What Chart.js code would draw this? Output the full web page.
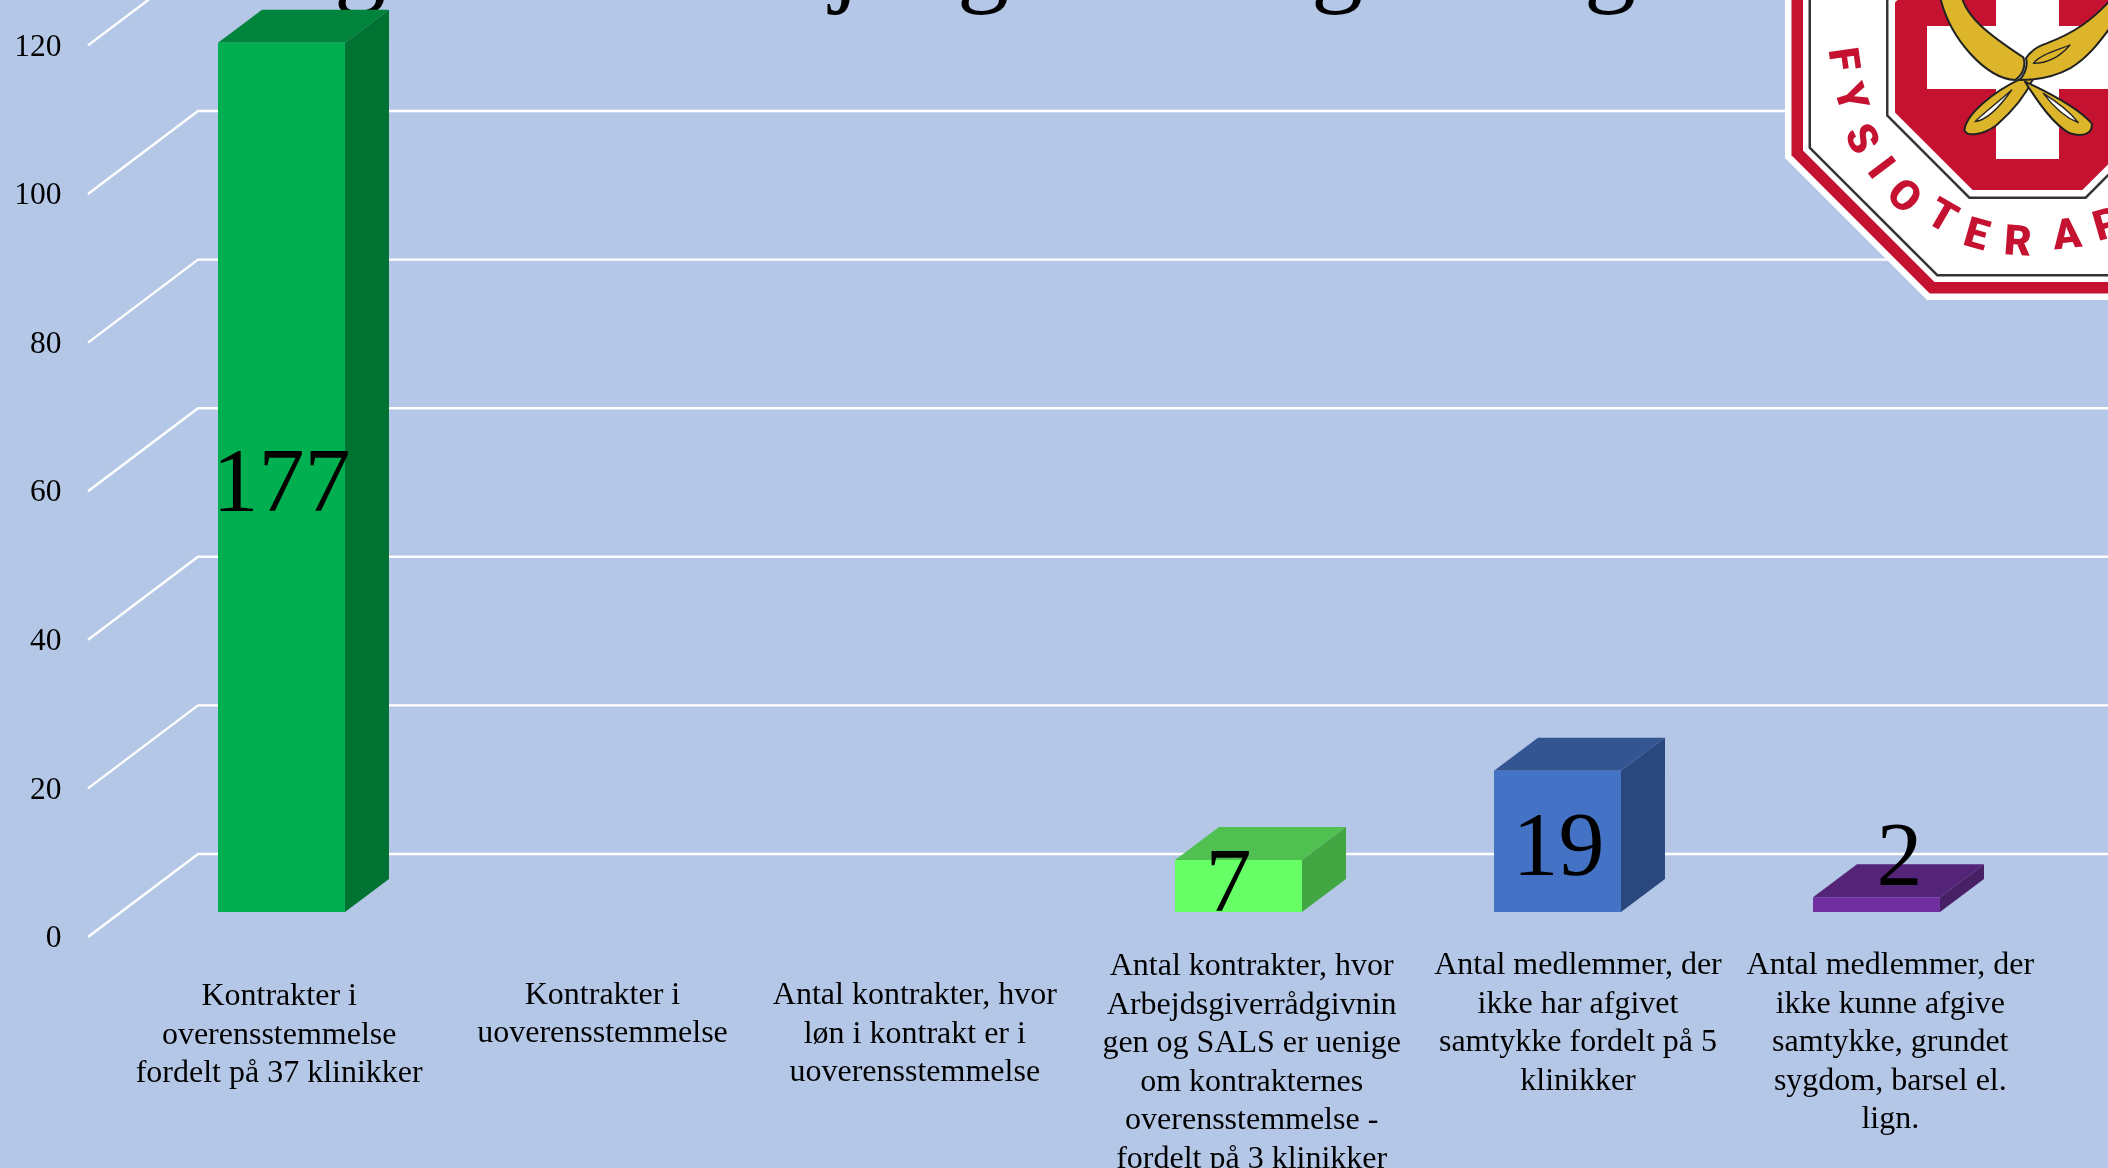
<!DOCTYPE html>
<html lang="da">
<head>
<meta charset="utf-8">
<style>
html,body{margin:0;padding:0;width:2108px;height:1168px;overflow:hidden;background:#B4C7E7}
#wrap{position:relative;width:2108px;height:1168px;overflow:hidden}
canvas{position:absolute;left:0;top:0}
svg{position:absolute;left:0;top:0}
</style>
<script src="https://cdn.jsdelivr.net/npm/chart.js@4/dist/chart.umd.min.js"></script>
</head>
<body>
<div id="wrap">
<canvas id="c" width="2108" height="1168"></canvas>
<svg id="logo" width="2108" height="1168" viewBox="0 0 2108 1168"></svg>
</div>
<script>
// ---- data ----
const categories = [
  ["Kontrakter i","overensstemmelse","fordelt på 37 klinikker"],
  ["Kontrakter i","uoverensstemmelse"],
  ["Antal kontrakter, hvor","løn i kontrakt er i","uoverensstemmelse"],
  ["Antal kontrakter, hvor","Arbejdsgiverrådgivnin","gen og SALS er uenige","om kontrakternes","overensstemmelse -","fordelt på 3 klinikker"],
  ["Antal medlemmer, der","ikke har afgivet","samtykke fordelt på 5","klinikker"],
  ["Antal medlemmer, der","ikke kunne afgive","samtykke, grundet","sygdom, barsel el.","lign."]
];
const barHeights = [117, 0, 0, 7, 19, 2];          // heights as drawn against the axis
const barLabels  = ["177", "", "", "7", "19", "2"]; // numbers as printed on the bars
const yTicks = [0, 20, 40, 60, 80, 100, 120];

// ---- styling ----
const faceColors = ["#00B050","#00B050","#00B050","#66FF66","#4472C4","#7030A0"];
const topColors  = ["#00843C","#00843C","#00843C","#50C050","#335693","#542478"];
const sideColors = ["#007232","#007232","#007232","#42A642","#2A487E","#472066"];
const SERIF = '"Liberation Serif"';
const wallDepth = {x:110, y:83};   // floor depth of the 3D box
const barInset  = {x:34,  y:25};   // where the bars stand in that depth
const barDepth  = {x:44,  y:33};
const catLabelDx = [-2.3, 2, -4.7, 13.2, 20.5, 13.8];
const catLabelBase = [1005, 1003.5, 1004, 975, 974, 974];
const catLineHeight = 38.5;
const valueDx = [0, 0, 0, -10, 1, 23];
const valueBase = [511, 0, 0, 911, 875, 885];
const titleGlyphs = [["g",360],["j",845],["g",983],["g",1337],["g",1610]];

const box3d = {
  id:'box3d',
  beforeDatasetsDraw(chart){
    const {ctx, scales:{y}, chartArea:a} = chart;
    ctx.save();
    // cropped title: only the descenders fall inside the frame
    ctx.fillStyle='#000';
    ctx.font='104px '+SERIF;
    ctx.textAlign='center';
    ctx.textBaseline='alphabetic';
    titleGlyphs.forEach(([ch,x])=>ctx.fillText(ch,x,-7));
    // walls
    ctx.strokeStyle='#fff';
    ctx.lineWidth=2.4;
    y.ticks.forEach(t=>{
      const py=y.getPixelForValue(t.value);
      ctx.beginPath();
      ctx.moveTo(a.left,py);
      ctx.lineTo(a.left+wallDepth.x,py-wallDepth.y);
      ctx.lineTo(chart.width,py-wallDepth.y);
      ctx.stroke();
    });
    // bar depth faces
    ctx.translate(barInset.x,-barInset.y);
    const meta=chart.getDatasetMeta(0);
    meta.data.forEach((b,i)=>{
      if(!barHeights[i]) return;
      const p=b.getProps(['x','y','base','width'],true);
      const l=p.x-p.width/2, r=p.x+p.width/2, dx=barDepth.x, dy=barDepth.y;
      ctx.fillStyle=topColors[i];
      ctx.beginPath();ctx.moveTo(l,p.y);ctx.lineTo(l+dx,p.y-dy);ctx.lineTo(r+dx,p.y-dy);ctx.lineTo(r,p.y);ctx.closePath();ctx.fill();
      ctx.fillStyle=sideColors[i];
      ctx.beginPath();ctx.moveTo(r,p.y);ctx.lineTo(r+dx,p.y-dy);ctx.lineTo(r+dx,p.base-dy);ctx.lineTo(r,p.base);ctx.closePath();ctx.fill();
    });
    // leaves ctx translated so the library's own bars land on the same plane
  },
  afterDatasetsDraw(chart){
    const {ctx, scales:{x}} = chart;
    ctx.restore();
    ctx.save();
    ctx.fillStyle='#000';
    ctx.textAlign='center';
    ctx.textBaseline='alphabetic';
    const meta=chart.getDatasetMeta(0);
    ctx.font='92px '+SERIF;
    barLabels.forEach((s,i)=>{
      if(s) ctx.fillText(s,meta.data[i].x+barInset.x+valueDx[i],valueBase[i]);
    });
    ctx.font='32px '+SERIF;
    categories.forEach((lines,i)=>{
      const px=x.getPixelForTick(i)+barInset.x+catLabelDx[i];
      lines.forEach((ln,k)=>ctx.fillText(ln,px,catLabelBase[i]+k*catLineHeight));
    });
    ctx.restore();
  }
};

new Chart(document.getElementById('c'),{
  type:'bar',
  data:{
    labels:categories,
    datasets:[{
      data:barHeights,
      backgroundColor:faceColors,
      borderWidth:0,
      categoryPercentage:1,
      barPercentage:0.398,
      clip:false
    }]
  },
  options:{
    responsive:false,
    animation:false,
    devicePixelRatio:1,
    layout:{padding:{left:0,top:44,right:106,bottom:0}},
    plugins:{legend:{display:false},title:{display:false},tooltip:{enabled:false}},
    scales:{
      x:{
        grid:{display:false},
        border:{display:false},
        ticks:{display:false},
        afterFit(s){s.height=231;}
      },
      y:{
        min:0,max:120,
        afterBuildTicks(s){s.ticks=yTicks.map(v=>({value:v}));},
        grid:{display:false,drawTicks:false},
        border:{display:false},
        ticks:{color:'#000',font:{family:SERIF,size:31.5},padding:26.5,labelOffset:2},
        afterFit(s){s.width=88;}
      }
    }
  },
  plugins:[box3d]
});

// ---- badge, cropped by the frame ----
const badgeCenter=[2027.5,57.5];
function octagon(h){
  const [cx,cy]=badgeCenter, c=h*0.4142;
  return [[-h,-c],[-c,-h],[c,-h],[h,-c],[h,c],[c,h],[-c,h],[-h,c]].map(p=>(cx+p[0])+','+(cy+p[1])).join(' ');
}
const badgeRings=[[242.5,'#fff'],[236,'#C41230'],[224.5,'#fff'],[219,'#333'],[216.5,'#fff'],[141.5,'#333'],[139,'#fff'],[132.5,'#C41230']];
const badgeLetters=[["F",1845,59,82],["Y",1852,97,72],["S",1863,138,62],["I",1882,167,53],["O",1905,195,42],["T",1943,215,30],["E",1977,233,16],["R",2018,240,4],["A",2067,233,-6],["P",2107,223,-16]];
let svg='';
badgeRings.forEach(([h,col])=>{svg+=`<polygon points="${octagon(h)}" fill="${col}"/>`;});
svg+='<rect x="1996" y="-50" width="63" height="209" fill="#fff"/><rect x="1927" y="26" width="200" height="63" fill="#fff"/>';
badgeLetters.forEach(([ch,x,y,r])=>{
  svg+=`<text x="0" y="15" text-anchor="middle" transform="translate(${x} ${y}) rotate(${r})" font-family="Roboto" font-weight="900" font-size="42" fill="#C41230">${ch}</text>`;
});
svg+=`<g transform="translate(1700 0) scale(0.33333)" fill="#DDB52B" stroke="#222" stroke-width="6" stroke-linejoin="round">
<path d="M965,235 C880,275 800,340 793,390 C800,412 850,405 890,375 C930,340 975,290 1000,235 Z"/>
<path d="M975,245 C1040,275 1130,320 1175,370 C1180,400 1150,412 1110,400 C1060,375 1010,300 975,245 Z"/>
<path d="M785,-10 C800,50 860,100 970,172 C978,195 970,225 945,240 C860,235 750,120 720,-10 Z"/>
<path d="M1240,-10 C1180,60 1120,100 1040,130 C1010,140 990,155 978,175 C985,200 975,220 960,240 C1010,240 1060,232 1110,205 C1170,170 1210,110 1240,70 Z"/>
<path d="M1110,135 C1060,155 1020,165 1000,190 C1040,190 1080,170 1110,135 Z" fill="#DDB52B" stroke-width="4"/>
<path d="M935,270 C890,310 850,340 825,365 C860,360 900,320 935,270 Z" fill="#fff" stroke-width="4"/>
<path d="M1030,280 C1060,320 1090,350 1135,368 C1110,335 1070,305 1030,280 Z" fill="#fff" stroke-width="4"/>
</g>`;
document.getElementById('logo').innerHTML=svg;
</script>
</body>
</html>
